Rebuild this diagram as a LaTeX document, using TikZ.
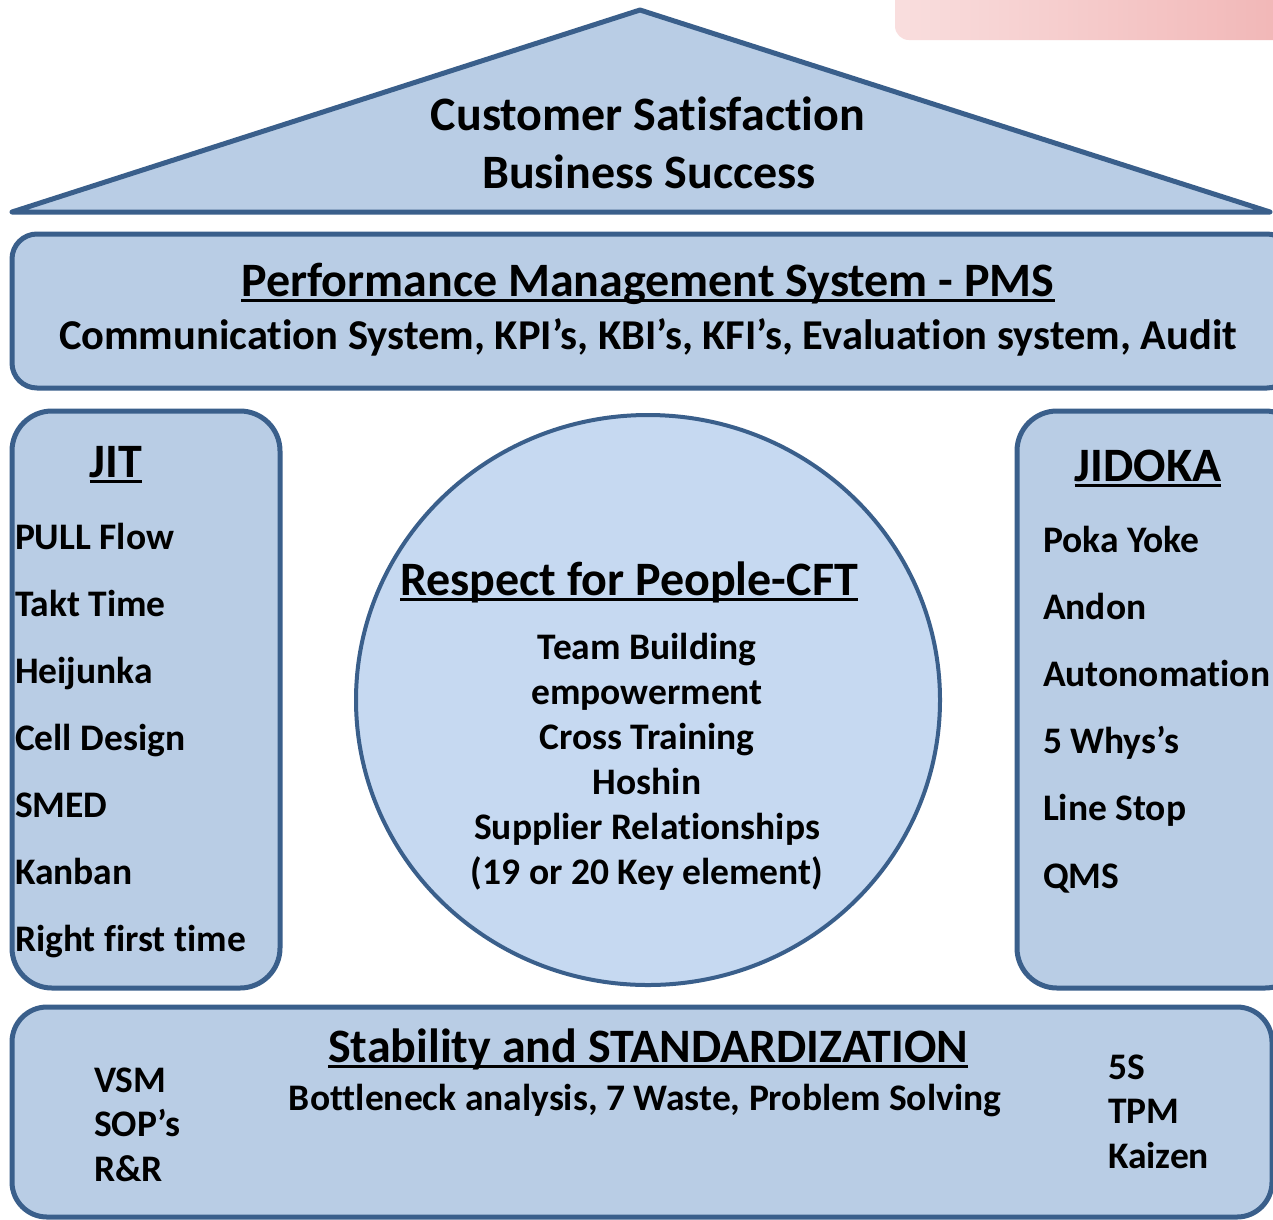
\documentclass[tikz,border=0pt]{standalone}
\usepackage{fontspec}
\setmainfont{Carlito}[Ligatures=NoCommon]
\definecolor{boxfill}{HTML}{B9CDE5}
\definecolor{circfill}{HTML}{C6D9F1}
\definecolor{edgeblue}{HTML}{3A5F8B}
\definecolor{pinkL}{HTML}{F9DEDE}
\definecolor{pinkR}{HTML}{F1B5B5}
\newcommand\myul[1]{\setbox0\hbox{#1}\rlap{\rule[-0.13em]{\wd0}{0.065em}}\box0}
\newcommand\bigf{\bfseries\fontsize{48}{58}\selectfont}
\newcommand\midf{\bfseries\fontsize{42.5}{51}\selectfont}
\newcommand\smf{\bfseries\fontsize{37.5}{45}\selectfont}
\tikzset{
  part/.style={draw=edgeblue, fill=boxfill, line width=5pt},
  txt/.style={inner sep=0pt, outer sep=0pt, text=black},
}
\begin{document}
\begin{tikzpicture}[x=1pt,y=-1pt]
\useasboundingbox (0,0) rectangle (1273,1219);
\clip (0,0) rectangle (1273,1219);
\fill[white] (0,0) rectangle (1273,1219);
% pink banner
\shade[left color=pinkL, right color=pinkR, rounded corners=14pt] (895,-30) rectangle (1300,40);
% roof
\draw[part, line join=round, line cap=round] (12,212) -- (640,10) -- (1270,212) -- cycle;
% PMS bar
\draw[part, rounded corners=25pt] (12,234) rectangle (1292,388);
% JIT pillar
\draw[part, rounded corners=40pt] (12,411) rectangle (280,988);
% JIDOKA pillar
\draw[part, rounded corners=40pt] (1017,411) rectangle (1305,988);
% foundation
\draw[part, rounded corners=35pt] (12,1007) rectangle (1272,1217);
% circle
\draw[part, fill=circfill, line width=4pt] (648,700) ellipse [x radius=292, y radius=285];

% roof text
\node[txt, font=\bigf, anchor=base] (cs) at (648,130) {Customer Satisfaction};
\node[txt, font=\bigf, anchor=base] (bs) at (649,188) {Business Success};
% PMS
\node[txt, font=\bigf, anchor=base] (pms) at (648,296) {\myul{Performance Management System - PMS}};
\node[txt, font=\midf, anchor=base] (pmsl) at (648,349) {Communication System, KPI’s, KBI’s, KFI’s, Evaluation system, Audit};
% JIT
\node[txt, font=\bigf, anchor=base] (jit) at (116,477) {\myul{JIT}};
\foreach \t [count=\i] in {PULL Flow, Takt Time, Heijunka, Cell Design, SMED, Kanban, Right first time}
  \node[txt, font=\smf, anchor=base west] (jit\i) at (15,{549+67*(\i-1)}) {\t};
% JIDOKA
\node[txt, font=\bigf, anchor=base] (jid) at (1148,481) {\myul{JIDOKA}};
\foreach \t [count=\i] in {Poka Yoke, Andon, Autonomation, 5 Whys’s, Line Stop, QMS}
  \node[txt, font=\smf, anchor=base west] (jid\i) at (1043,{552+67.2*(\i-1)}) {\t};
% Circle
\node[txt, font=\bigf, anchor=base] (rfp) at (629,595) {\myul{Respect for People-CFT}};
\foreach \t [count=\i] in {Team Building, empowerment, Cross Training, Hoshin, Supplier Relationships, (19 or 20 Key element)}
  \node[txt, font=\smf, anchor=base] (rp\i) at (647,{659+45*(\i-1)}) {\t};
% Foundation
\node[txt, font=\bigf, anchor=base] (std) at (648,1062) {\myul{Stability and STANDARDIZATION}};
\node[txt, font=\smf, anchor=base] (stdl) at (645,1110) {Bottleneck analysis, 7 Waste, Problem Solving};
\foreach \t [count=\i] in {VSM, SOP’s, R\&R}
  \node[txt, font=\smf, anchor=base west] (fl\i) at (94,{1092+44.5*(\i-1)}) {\t};
\foreach \t [count=\i] in {5S, TPM, Kaizen}
  \node[txt, font=\smf, anchor=base west] (fr\i) at (1108,{1079+44.5*(\i-1)}) {\t};
\end{tikzpicture}
\end{document}
